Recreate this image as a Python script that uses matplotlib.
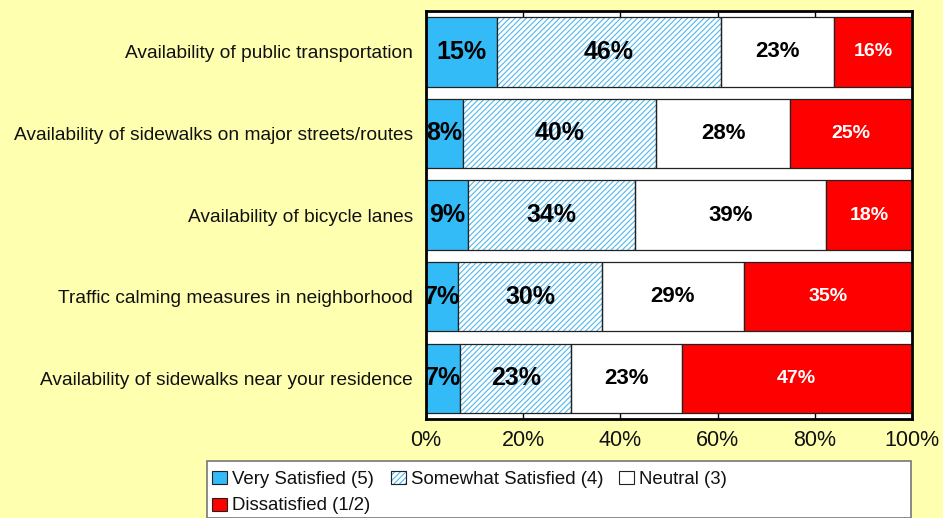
import matplotlib
matplotlib.use("Agg")
import matplotlib.pyplot as plt
from matplotlib.patches import Rectangle
import numpy as np

plt.rcParams['font.family'] = ['Liberation Sans', 'DejaVu Sans']
plt.rcParams['hatch.linewidth'] = 0.8

categories = [
    "Availability of public transportation",
    "Availability of sidewalks on major streets/routes",
    "Availability of bicycle lanes",
    "Traffic calming measures in neighborhood",
    "Availability of sidewalks near your residence",
]
very_satisfied = [14.6, 7.6, 8.7, 6.6, 7.0]
somewhat_satisfied = [46.0, 39.8, 34.4, 29.6, 22.9]
neutral = [23.3, 27.6, 39.3, 29.2, 22.7]
dissatisfied = [16.1, 25.0, 17.6, 34.6, 47.4]
series_names = ["Very Satisfied (5)", "Somewhat Satisfied (4)", "Neutral (3)", "Dissatisfied (1/2)"]
x_ticks = [0, 20, 40, 60, 80, 100]

BG = "#FFFFB0"
BLUE = "#33BBF8"
HATCH_BLUE = "#4FB8EE"
RED = "#FF0000"
EDGE = "#222222"

W, H = 943, 518
fig = plt.figure(figsize=(W / 100, H / 100), dpi=100, facecolor=BG)
ax = fig.add_axes([0.4518, 0.191, 0.5153, 0.7877])
ax.set_facecolor("white")

y = np.arange(len(categories))
h = 0.85
series = [very_satisfied, somewhat_satisfied, neutral, dissatisfied]
styles = [
    dict(color=BLUE, edgecolor=EDGE, linewidth=0.9),
    None,
    dict(color="white", edgecolor=EDGE, linewidth=0.9),
    dict(color=RED, edgecolor=EDGE, linewidth=0.9),
]
label_sizes = [18, 18, 16, 14]
label_colors = ["black", "black", "black", "white"]
left = np.zeros(len(categories))

for i, vals in enumerate(series):
    vals = np.array(vals)
    if i == 1:
        ax.barh(y, vals, left=left, height=h, color="white", edgecolor=HATCH_BLUE,
                hatch="//////", linewidth=0, zorder=2)
        ax.barh(y, vals, left=left, height=h, color="none", edgecolor=EDGE, linewidth=0.9, zorder=3)
    else:
        ax.barh(y, vals, left=left, height=h, zorder=2, **styles[i])
    for j, v in enumerate(vals):
        ax.text(left[j] + v / 2, y[j], f"{v:.0f}%", ha="center", va="center",
                color=label_colors[i], fontsize=label_sizes[i], fontweight="bold", zorder=5)
    left += vals

ax.set_xlim(0, 100)
ax.set_ylim(len(categories) - 0.5, -0.5)
ax.set_yticks(y)
ax.set_yticklabels(categories, fontsize=13.8, color="#111111")
ax.set_xticks(x_ticks)
ax.set_xticklabels([f"{t}%" for t in x_ticks], fontsize=15.5, color="#111111")
ax.tick_params(axis="y", length=0, pad=9.5)
ax.tick_params(axis="x", direction="in", length=5, width=1, top=True, bottom=True, pad=8)
for s in ax.spines.values():
    s.set_linewidth(2)
    s.set_color("black")

# legend box with entries laid out in two rows
fig.patches.append(Rectangle((207 / W, 0.0), (911 - 207) / W, (H - 461) / H,
                             transform=fig.transFigure, facecolor="white",
                             edgecolor="#777777", linewidth=1.2, zorder=1))

legend_styles = [
    dict(facecolor=BLUE, edgecolor=EDGE),
    dict(facecolor="white", edgecolor=HATCH_BLUE, hatch="//////"),
    dict(facecolor="white", edgecolor=EDGE),
    dict(facecolor=RED, edgecolor=EDGE),
]
legend_pos = [(212, 477), (391, 477), (619, 477), (212, 504)]
for name, st, (px, py) in zip(series_names, legend_styles, legend_pos):
    fig.patches.append(Rectangle((px / W, 1 - (py + 6.5) / H), 15 / W, 13 / H,
                                 transform=fig.transFigure, linewidth=0.8, zorder=3, **st))
    if st.get("hatch"):
        fig.patches.append(Rectangle((px / W, 1 - (py + 6.5) / H), 15 / W, 13 / H,
                                     transform=fig.transFigure, facecolor="none",
                                     edgecolor=EDGE, linewidth=0.8, zorder=4))
    fig.text((px + 20) / W, 1 - py / H, name, ha="left", va="center_baseline",
             fontsize=13.4, color="#111111", zorder=5)

fig.savefig("out.png", dpi=100, facecolor=BG)
